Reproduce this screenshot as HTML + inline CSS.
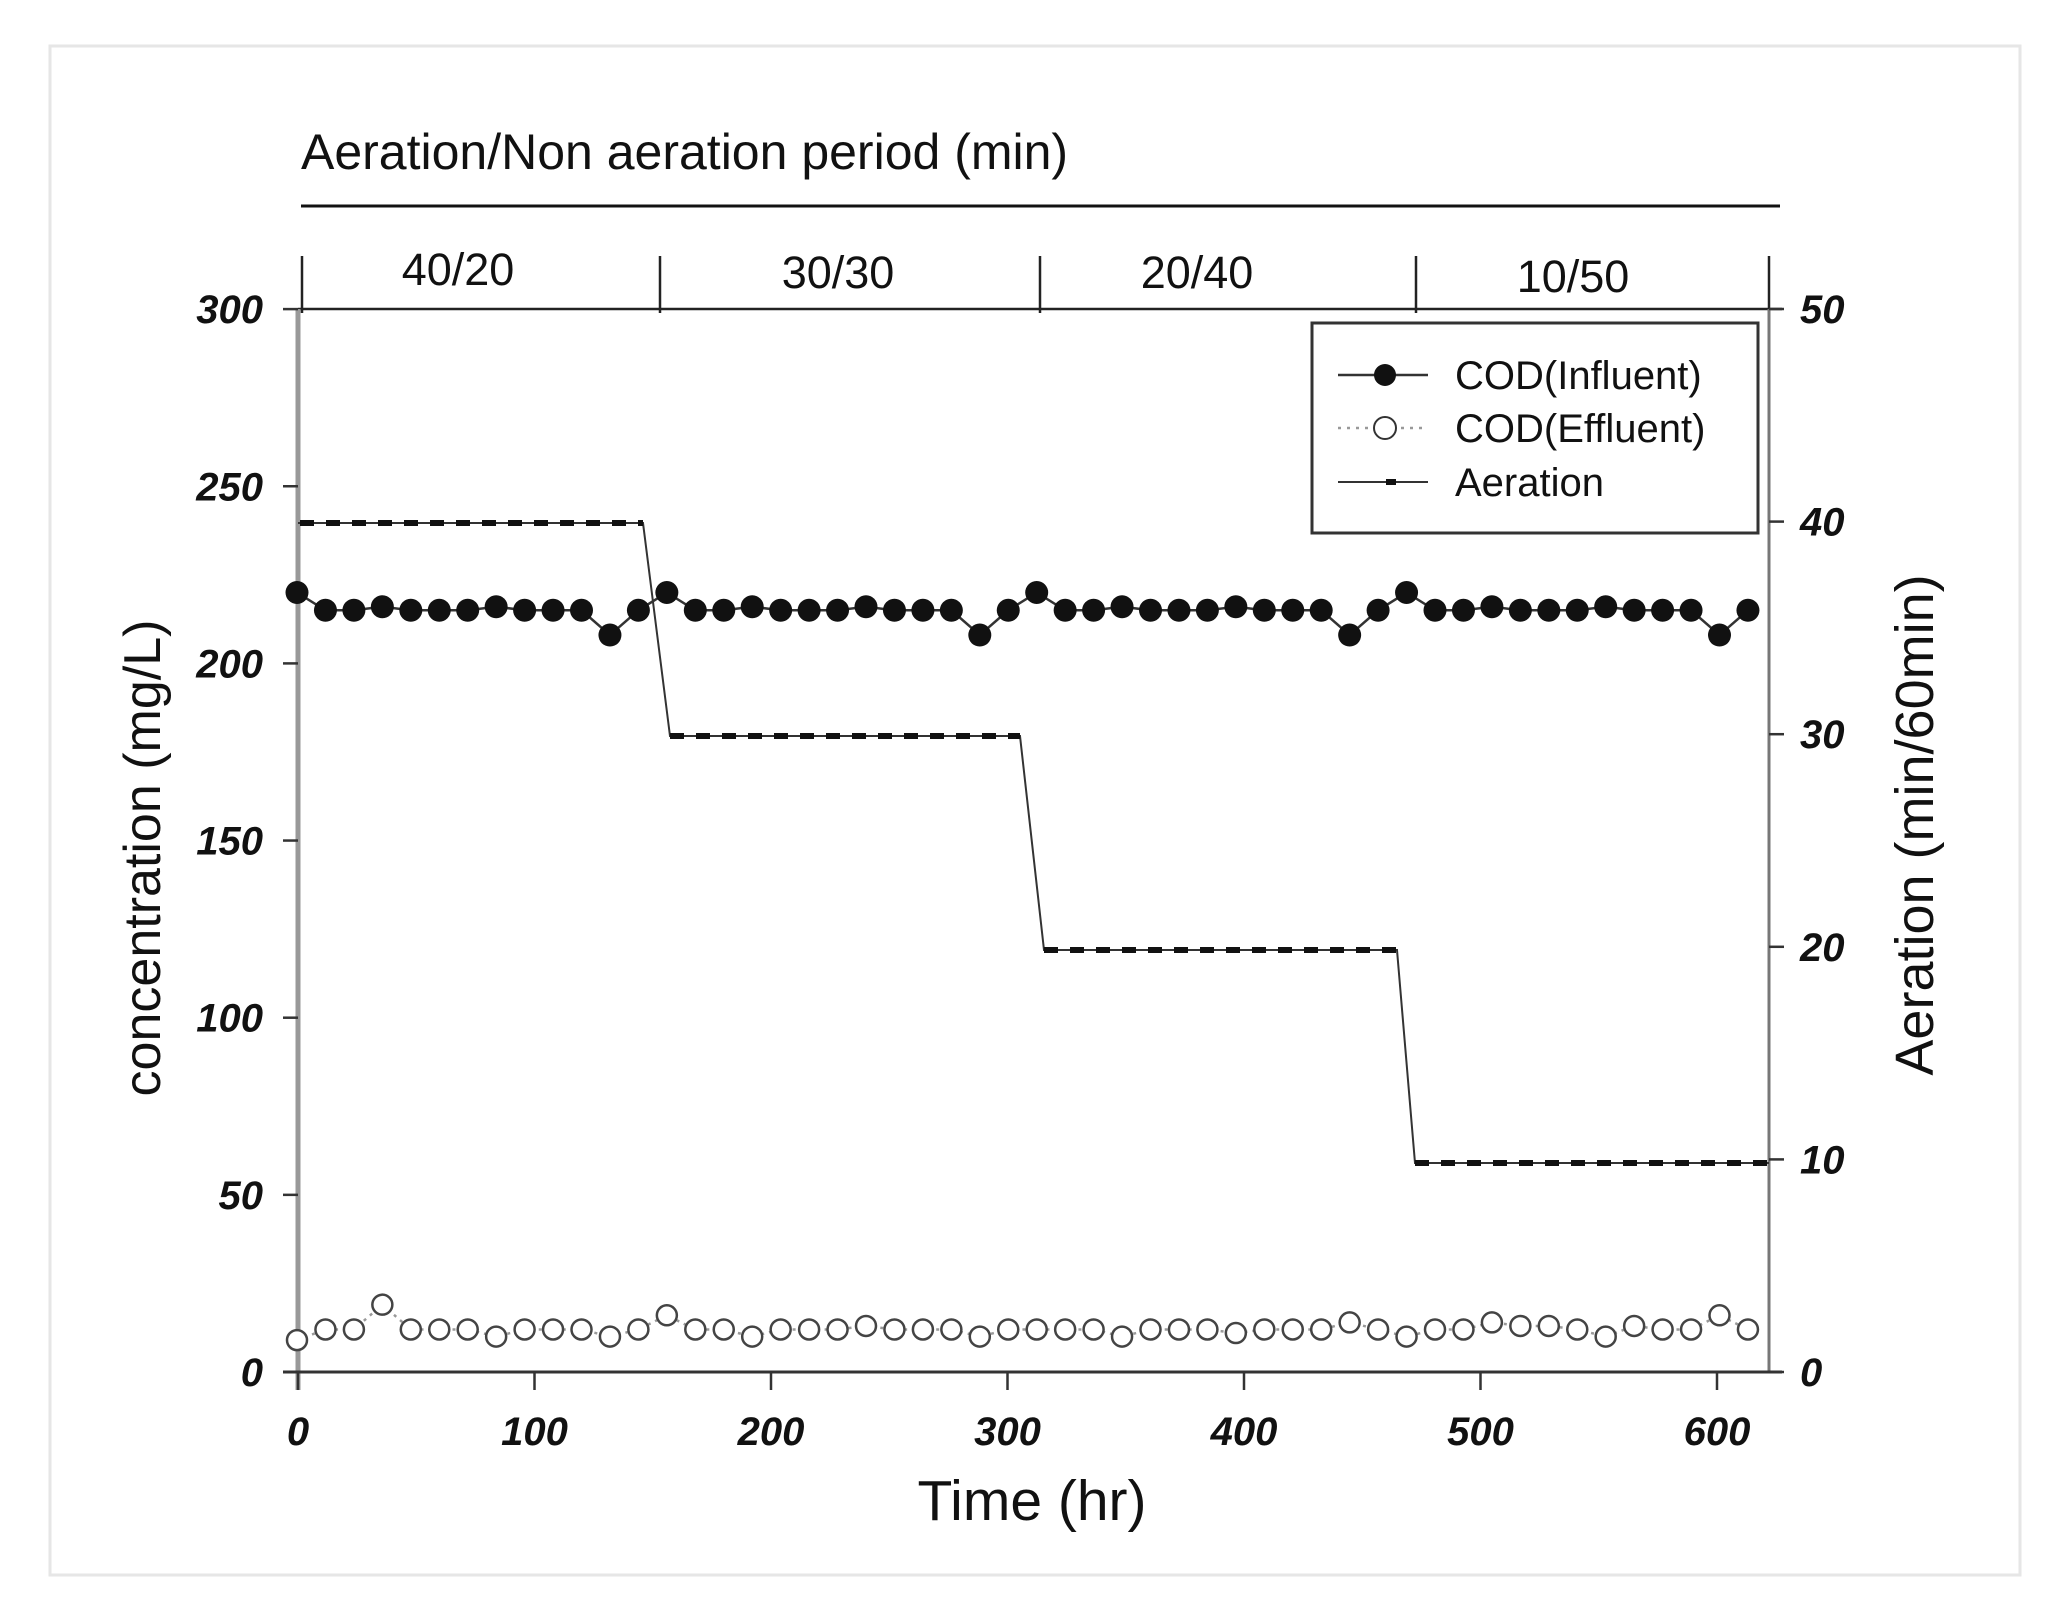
<!DOCTYPE html>
<html><head><meta charset="utf-8"><style>
html,body{margin:0;padding:0;background:#fff;}
svg{display:block;font-family:"Liberation Sans",Arial,sans-serif;}
.t{font-style:italic;font-weight:bold;font-size:40px;fill:#111;}
</style></head><body>
<svg id="s" width="2059" height="1621" viewBox="0 0 2059 1621" xmlns="http://www.w3.org/2000/svg">
<rect x="0" y="0" width="2059" height="1621" fill="#fff"/>
<rect x="50" y="46" width="1970" height="1529" fill="none" stroke="#e6e6e6" stroke-width="3"/>
<text x="301" y="169" font-size="50" fill="#111">Aeration/Non aeration period (min)</text>
<line x1="301" y1="206" x2="1780" y2="206" stroke="#111" stroke-width="3"/>
<g stroke="#222" stroke-width="2.5">
<line x1="302" y1="256" x2="302" y2="313"/>
<line x1="660" y1="256" x2="660" y2="313"/>
<line x1="1040" y1="256" x2="1040" y2="313"/>
<line x1="1416" y1="256" x2="1416" y2="313"/>
<line x1="1769" y1="256" x2="1769" y2="313"/>
<line x1="298" y1="309" x2="1782" y2="309"/>
</g>
<g font-size="45" fill="#111" text-anchor="middle">
<text x="458" y="285">40/20</text><text x="838" y="288">30/30</text>
<text x="1197" y="288">20/40</text><text x="1573" y="292">10/50</text>
</g>
<line x1="298" y1="309" x2="298" y2="1390" stroke="#999" stroke-width="5"/>
<line x1="1769" y1="309" x2="1769" y2="1372" stroke="#777" stroke-width="3"/>
<line x1="283" y1="1372" x2="1782" y2="1372" stroke="#333" stroke-width="3"/>
<g stroke="#333" stroke-width="2.5" id="ticks"></g>
<g class="t" text-anchor="end" id="yl"></g>
<g class="t" text-anchor="start" id="yr"></g>
<g class="t" text-anchor="middle" id="xl"></g>
<text x="1032" y="1520" font-size="57" fill="#111" text-anchor="middle">Time (hr)</text>
<text transform="translate(160,858) rotate(-90)" font-size="52" fill="#111" text-anchor="middle">concentration (mg/L)</text>
<text transform="translate(1933,825) rotate(-90)" font-size="54" fill="#111" text-anchor="middle">Aeration (min/60min)</text>
<polyline points="298,523 643,523 670,736 1020,736 1044,950 1397,950 1415,1163 1769,1163" fill="none" stroke="#333" stroke-width="2"/>
<g stroke="#111" stroke-width="6" stroke-dasharray="14 12">
<line x1="300" y1="523" x2="643" y2="523"/>
<line x1="670" y1="736" x2="1020" y2="736"/>
<line x1="1044" y1="950" x2="1397" y2="950"/>
<line x1="1415" y1="1163" x2="1769" y2="1163"/>
</g>
<g id="data"></g>
<rect x="1312" y="323" width="446" height="210" fill="#fff" stroke="#333" stroke-width="3"/>
<line x1="1338" y1="375" x2="1428" y2="375" stroke="#333" stroke-width="2.5"/>
<circle cx="1385" cy="375" r="11" fill="#111"/>
<line x1="1338" y1="428" x2="1428" y2="428" stroke="#999" stroke-width="2.5" stroke-dasharray="3 6"/>
<circle cx="1385" cy="428" r="11" fill="#fff" stroke="#333" stroke-width="2"/>
<line x1="1338" y1="482" x2="1428" y2="482" stroke="#333" stroke-width="2"/>
<rect x="1386" y="479" width="10" height="6" fill="#111"/>
<g font-size="40" fill="#111">
<text x="1455" y="389">COD(Influent)</text>
<text x="1455" y="442">COD(Effluent)</text>
<text x="1455" y="496">Aeration</text>
</g>
</svg>
<script>
var NS="http://www.w3.org/2000/svg";
function el(p,t,a,txt){var e=document.createElementNS(NS,t);for(var k in a)e.setAttribute(k,a[k]);if(txt!==undefined)e.textContent=txt;document.getElementById(p).appendChild(e);}
for(var v=0;v<=300;v+=50){var y=1372-3.543*v;el("ticks","line",{x1:283,y1:y,x2:298,y2:y});el("yl","text",{x:263,y:y+14},v);}
for(var a=0;a<=50;a+=10){var y=1372-21.26*a;el("ticks","line",{x1:1769,y1:y,x2:1784,y2:y});el("yr","text",{x:1800,y:y+14},a);}
for(var h=0;h<=600;h+=100){var x=298+2.365*h;el("ticks","line",{x1:x,y1:1372,x2:x,y2:1390});el("xl","text",{x:x,y:1445},h);}
var inf=[220,215,215,216,215,215,215,216,215,215,215,208,215,220,215,215,216,215,215,215,216,215,215,215,208,215,220,215,215,216,215,215,215,216,215,215,215,208,215,220,215,215,216,215,215,215,216,215,215,215,208,215];
var eff=[9,12,12,19,12,12,12,10,12,12,12,10,12,16,12,12,10,12,12,12,13,12,12,12,10,12,12,12,12,10,12,12,12,11,12,12,12,14,12,10,12,12,14,13,13,12,10,13,12,12,16,12];
var pi=[],pe=[];
for(var i=0;i<52;i++){var x=297+i*28.45;pi.push(x+","+(1372-3.543*inf[i]));pe.push(x+","+(1372-3.543*eff[i]));}
el("data","polyline",{points:pe.join(" "),fill:"none",stroke:"#999","stroke-width":2.5,"stroke-dasharray":"3 5"});
el("data","polyline",{points:pi.join(" "),fill:"none",stroke:"#333","stroke-width":2.5});
for(var i=0;i<52;i++){var x=297+i*28.45;
el("data","circle",{cx:x,cy:1372-3.543*eff[i],r:10,fill:"#fff",stroke:"#444","stroke-width":2.5});
el("data","circle",{cx:x,cy:1372-3.543*inf[i],r:11.5,fill:"#111"});}
</script>
</body></html>
